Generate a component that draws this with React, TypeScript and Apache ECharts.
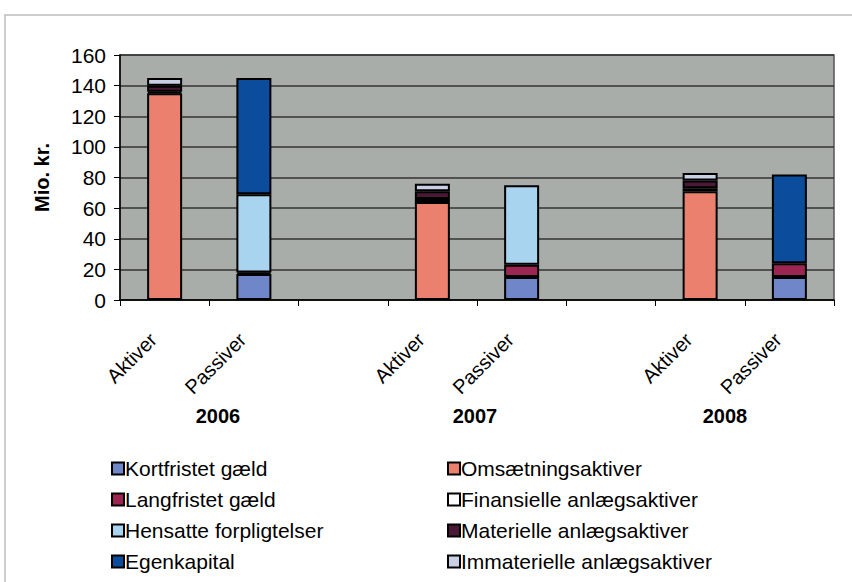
import React, { useEffect, useRef } from "react";
import * as echarts from "echarts";

const categories = ["Aktiver|2006", "Passiver|2006", "gap1", "Aktiver|2007", "Passiver|2007", "gap2", "Aktiver|2008", "Passiver|2008"];
const years = ["2006", "2007", "2008"];
const yTicks = [0, 20, 40, 60, 80, 100, 120, 140, 160];

// Passiver (liabilities) — values at Passiver columns only
const kortfristet = [null, 17, null, null, 15, null, null, 15];
const langfristet = [null, 1, null, null, 8, null, null, 9];
const hensatte = [null, 51, null, null, 52, null, null, null];
const egenkapital = [null, 76, null, null, null, null, null, 58];
// Aktiver (assets) — values at Aktiver columns only
const omsaetning = [135, null, null, 64, null, null, 71, null];
const finansielle = [1, null, null, 2, null, null, 2, null];
const materielle = [4, null, null, 5, null, null, 5, null];
const immaterielle = [5, null, null, 5, null, null, 5, null];

const seriesNames = [
  "Kortfristet gæld",
  "Langfristet gæld",
  "Hensatte forpligtelser",
  "Egenkapital",
  "Omsætningsaktiver",
  "Finansielle anlægsaktiver",
  "Materielle anlægsaktiver",
  "Immaterielle anlægsaktiver",
];
const seriesData = [kortfristet, langfristet, hensatte, egenkapital, omsaetning, finansielle, materielle, immaterielle];
const seriesColors = ["#6f86c8", "#9c2552", "#a9d4ef", "#0b4c9c", "#ea806d", "#ffffff", "#4b1835", "#c9d0e6"];

const FONT = "'Liberation Sans', Arial, sans-serif";

export default function App() {
  const ref = useRef<HTMLDivElement>(null);
  useEffect(() => {
    if (!ref.current) return;
    const chart = echarts.init(ref.current, null, { renderer: "svg" });
    const series = seriesNames.map((name, i) => ({
      name,
      type: "bar",
      stack: "total",
      barWidth: 35,
      data: seriesData[i].map((v) => (v === null ? "-" : v)),
      itemStyle: { color: seriesColors[i], borderColor: "#000", borderWidth: 2 },
    }));
    const legendStyle = {
      orient: "vertical",
      itemWidth: 12,
      itemHeight: 12,
      itemGap: 10,
      height: 128,
      icon: "rect",
      itemStyle: { borderColor: "#000", borderWidth: 2 },
      textStyle: { fontFamily: FONT, fontSize: 21, color: "#000", padding: [0, 0, 0, -4] },
    };
    chart.setOption({
      animation: false,
      backgroundColor: "#fff",
      textStyle: { fontFamily: FONT },
      grid: {
        left: 120,
        right: 18,
        top: 55,
        bottom: 282,
        show: true,
        backgroundColor: "#a8adaa",
        borderColor: "#555",
        borderWidth: 1.5,
      },
      legend: [
        { ...legendStyle, left: 106, top: 453, data: seriesNames.slice(0, 4) },
        { ...legendStyle, left: 442, top: 453, data: seriesNames.slice(4) },
      ],
      xAxis: {
        type: "category",
        data: categories,
        axisLine: { lineStyle: { color: "#000", width: 1.5 } },
        axisTick: { show: true, length: 6, lineStyle: { color: "#000" } },
        axisLabel: {
          interval: 0,
          rotate: 45,
          margin: 25,
          padding: [0, 16, 0, 0],
          fontSize: 20,
          color: "#000",
          fontFamily: FONT,
          formatter: (v: string) => (v.startsWith("gap") ? "" : v.split("|")[0]),
        },
      },
      yAxis: {
        type: "value",
        min: yTicks[0],
        max: yTicks[yTicks.length - 1],
        interval: 20,
        name: "Mio. kr.",
        nameLocation: "middle",
        nameGap: 68,
        nameTextStyle: { fontFamily: FONT, fontSize: 20, fontWeight: "bold", color: "#000" },
        axisLine: { show: true, lineStyle: { color: "#000", width: 1.5 } },
        axisTick: { show: true, length: 6, lineStyle: { color: "#000" } },
        axisLabel: { fontSize: 21, color: "#000", margin: 14, fontFamily: FONT },
        splitLine: { lineStyle: { color: "#333", width: 1.5 } },
      },
      graphic: [
        {
          type: "polyline",
          shape: { points: [[5, 582], [5, 15], [852, 15]] },
          style: { stroke: "#bdbdbd", lineWidth: 1.5, fill: null },
          silent: true,
        },
        ...years.map((y, i) => ({
          type: "text",
          x: [218, 475, 725][i],
          y: 416,
          style: {
            text: y,
            fontFamily: FONT,
            fontSize: 20,
            fontWeight: "bold",
            fill: "#000",
            align: "center",
            verticalAlign: "middle",
          },
        })),
      ],
      series,
    });
    return () => chart.dispose();
  }, []);
  return <div ref={ref} style={{ position: "fixed", left: 0, top: 0, width: 852, height: 582 }} />;
}
